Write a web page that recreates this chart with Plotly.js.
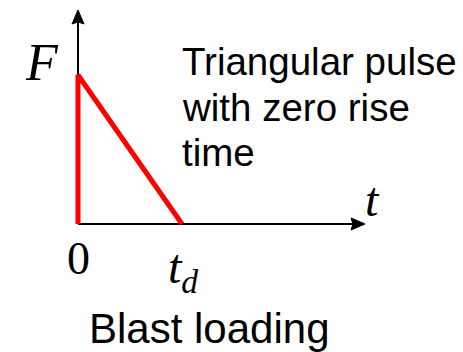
<!DOCTYPE html>
<html>
<head>
<meta charset="utf-8">
<script src="https://cdn.plot.ly/plotly-3.0.1.min.js"></script>
<style>
  html, body { margin: 0; padding: 0; background: #ffffff; }
  #chart { width: 463px; height: 352px; }
</style>
</head>
<body>
<div id="chart"></div>
<script>
// Triangular blast pulse: force jumps to its peak at t = 0, then decays linearly to zero at t = td.
// Time in units of td, force in units of the peak value.
const pulseTime = [0, 0, 1];
const pulseForce = [0, 1, 0];

// Axis extents (arrow tips) in the same units
const timeAxisEnd = 2.76;
const forceAxisEnd = 1.436;

const serif = 'Liberation Serif, Times New Roman, serif';
const sans = 'Liberation Sans, Arial, sans-serif';

const pulse = {
  x: pulseTime,
  y: pulseForce,
  type: 'scatter',
  mode: 'lines',
  line: { color: '#ff0000', width: 5 },
  hoverinfo: 'skip',
  showlegend: false
};

// Axis lines sit below the pulse; arrowheads are small pixel-sized triangles at the tips.
const axisLine = { color: '#000000', width: 2 };
const shapes = [
  { type: 'line', layer: 'below', xref: 'x', yref: 'y', x0: 0, y0: 0, x1: timeAxisEnd - 0.08, y1: 0, line: axisLine },
  { type: 'line', layer: 'below', xref: 'x', yref: 'y', x0: 0, y0: 0, x1: 0, y1: forceAxisEnd - 0.06, line: axisLine },
  {
    type: 'path', xref: 'x', yref: 'y', xsizemode: 'pixel', ysizemode: 'pixel',
    xanchor: timeAxisEnd, yanchor: 0,
    path: 'M0,0 L-14,6 L-12,0 L-14,-6 Z',
    fillcolor: '#000000', line: { color: '#000000', width: 1 }
  },
  {
    type: 'path', xref: 'x', yref: 'y', xsizemode: 'pixel', ysizemode: 'pixel',
    xanchor: 0, yanchor: forceAxisEnd,
    path: 'M0,0 L-6,-14 L0,-12 L6,-14 Z',
    fillcolor: '#000000', line: { color: '#000000', width: 1 }
  }
];

function label(text, px, py, size, family, style, xanchor) {
  return {
    text: text,
    x: px / 463, y: 1 - py / 352,
    xref: 'paper', yref: 'paper',
    xanchor: xanchor || 'center', yanchor: 'middle',
    showarrow: false, borderpad: 0,
    font: { family: family, size: size, color: '#000000', style: style || 'normal' }
  };
}

const layout = {
  width: 463,
  height: 352,
  margin: { l: 0, r: 0, t: 0, b: 0 },
  paper_bgcolor: '#ffffff',
  plot_bgcolor: '#ffffff',
  showlegend: false,
  xaxis: { range: [-0.75, 3.702], visible: false, fixedrange: true },
  yaxis: { range: [-0.859, 1.503], visible: false, fixedrange: true },
  shapes: shapes,
  annotations: [
    label('F', 42, 63, 52, serif, 'italic'),
    label('t', 372, 199, 48, serif, 'italic'),
    label('0', 78, 258, 46, serif),
    label('t<sub>d</sub>', 183, 270, 48, serif, 'italic'),
    label('Triangular pulse', 181, 61, 38.5, sans, 'normal', 'left'),
    label('with zero rise', 181, 107, 38.5, sans, 'normal', 'left'),
    label('time', 181, 152, 38.5, sans, 'normal', 'left'),
    label('Blast loading', 209, 328, 42, sans)
  ]
};

Plotly.newPlot('chart', [pulse], layout, { staticPlot: true, displayModeBar: false });
</script>
</body>
</html>
